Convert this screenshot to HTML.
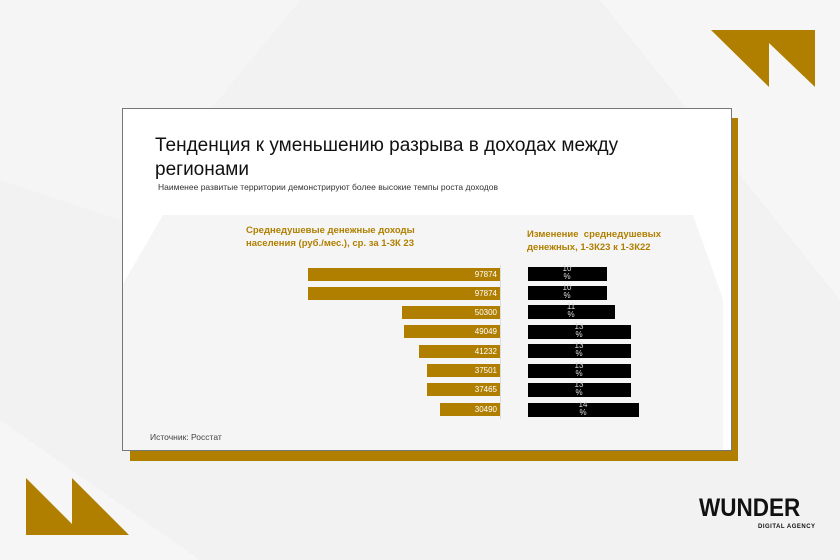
<!DOCTYPE html>
<html><head><meta charset="utf-8"><style>
*{margin:0;padding:0;box-sizing:border-box}
body{width:840px;height:560px;overflow:hidden;background:#f2f2f2;font-family:"Liberation Sans",sans-serif;position:relative}
.a{position:absolute}
.g{background:#b07f00}
.k{background:#000}
.v{position:absolute;color:#fff;font-size:8px;right:3px;top:2px}
.p{position:absolute;color:#ddd;font-size:8px;line-height:8px;text-align:center;width:20px}
</style></head><body>
<svg class="a" style="left:0;top:0" width="840" height="560">
<polygon points="0,0 300,0 120,220 0,180" fill="#f5f5f5"/>
<polygon points="600,0 840,0 840,300" fill="#f6f6f6"/>
<polygon points="0,420 200,560 0,560" fill="#f6f6f6"/>
<polygon points="711,30 815,30 815,87 769,43 769,87" fill="#b07f00"/>
<polygon points="26,478 72,524 72,478 129,535 26,535" fill="#b07f00"/>
</svg>
<div class="a g" style="left:130px;top:118px;width:608px;height:343px"></div>
<div class="a" style="left:122px;top:108px;width:610px;height:343px;background:#fff;border:1px solid #777"></div>
<svg class="a" style="left:123px;top:109px" width="608" height="341"><polygon points="40,106 570,106 600,190 600,341 0,341 0,175" fill="#f5f5f5"/></svg>
<div class="a" style="left:155px;top:134px;font-size:19px;line-height:24px;color:#111;width:520px">Тенденция к уменьшению разрыва в доходах между регионами</div>
<div class="a" style="left:158px;top:182px;font-size:8.5px;color:#333">Наименее развитые территории демонстрируют более высокие темпы роста доходов</div>
<div class="a" style="left:246px;top:224px;font-size:9.5px;line-height:13px;color:#b07f00;font-weight:bold">Среднедушевые денежные доходы<br>населения (руб./мес.), ср. за 1-3К 23</div>
<div class="a" style="left:527px;top:228px;font-size:9.5px;line-height:13px;color:#b07f00;font-weight:bold">Изменение&nbsp; среднедушевых<br>денежных, 1-3К23 к 1-3К22</div>
<div class="a" style="left:500px;top:265px;width:1px;height:154px;background:#ddd"></div>
<div class="a g" style="left:308px;top:268px;width:192px;height:13px"><span class="v">97874</span></div>
<div class="a g" style="left:308px;top:287px;width:192px;height:13px"><span class="v">97874</span></div>
<div class="a g" style="left:402px;top:306px;width:98px;height:13px"><span class="v">50300</span></div>
<div class="a g" style="left:404px;top:325px;width:96px;height:13px"><span class="v">49049</span></div>
<div class="a g" style="left:419px;top:345px;width:81px;height:13px"><span class="v">41232</span></div>
<div class="a g" style="left:427px;top:364px;width:73px;height:13px"><span class="v">37501</span></div>
<div class="a g" style="left:427px;top:383px;width:73px;height:13px"><span class="v">37465</span></div>
<div class="a g" style="left:440px;top:403px;width:60px;height:13px"><span class="v">30490</span></div>
<div class="a k" style="left:528px;top:267px;width:79px;height:14px"><span class="p" style="left:29px;top:-2px">10<br>%</span></div>
<div class="a k" style="left:528px;top:286px;width:79px;height:14px"><span class="p" style="left:29px;top:-2px">10<br>%</span></div>
<div class="a k" style="left:528px;top:305px;width:87px;height:14px"><span class="p" style="left:33px;top:-2px">11<br>%</span></div>
<div class="a k" style="left:528px;top:325px;width:103px;height:14px"><span class="p" style="left:41px;top:-2px">13<br>%</span></div>
<div class="a k" style="left:528px;top:344px;width:103px;height:14px"><span class="p" style="left:41px;top:-2px">13<br>%</span></div>
<div class="a k" style="left:528px;top:364px;width:103px;height:14px"><span class="p" style="left:41px;top:-2px">13<br>%</span></div>
<div class="a k" style="left:528px;top:383px;width:103px;height:14px"><span class="p" style="left:41px;top:-2px">13<br>%</span></div>
<div class="a k" style="left:528px;top:403px;width:111px;height:14px"><span class="p" style="left:45px;top:-2px">14<br>%</span></div>
<div class="a" style="left:150px;top:432px;font-size:8.5px;color:#444">Источник: Росстат</div>
<div class="a" style="left:699px;top:494px;font-size:25px;font-weight:bold;color:#111;transform:scaleX(0.9);transform-origin:left">WUNDER</div>
<div class="a" style="left:758px;top:524px;font-size:6px;font-weight:bold;color:#111;letter-spacing:0.5px">DIGITAL AGENCY</div>
</body></html>
